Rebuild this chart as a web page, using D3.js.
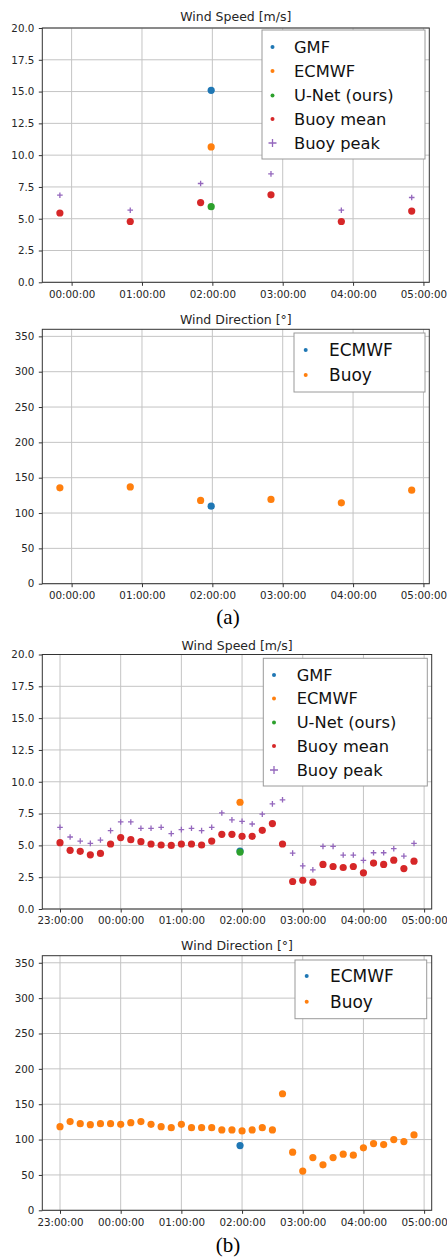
<!DOCTYPE html>
<html>
<head>
<meta charset="utf-8">
<script src="https://cdn.jsdelivr.net/npm/d3@7"></script>
<style>
    body { margin: 0; background: #fff; }
    svg { display: block; }
</style>
</head>
<body>
<svg id="chart" width="447" height="1258"></svg>
<script>
/* dati del caso (a) */
const timesA = ["23:50", "00:50", "01:50", "02:50", "03:50", "04:50"];
const satTimeA = ["01:59"];
const gmfSpeedA = [15.1];
const ecmwfSpeedA = [10.65];
const unetSpeedA = [5.95];
const buoyMeanA = [5.45, 4.78, 6.27, 6.88, 4.78, 5.6];
const buoyPeakA = [6.85, 5.67, 7.77, 8.53, 5.67, 6.67];
const ecmwfDirA = [109.7];
const buoyDirA = [135.7, 137, 117.8, 119.2, 114.5, 132.4];

/* dati del caso (b) */
const timesB = ["23:00", "23:10", "23:20", "23:30", "23:40", "23:50",
    "00:00", "00:10", "00:20", "00:30", "00:40", "00:50",
    "01:00", "01:10", "01:20", "01:30", "01:40", "01:50",
    "02:00", "02:10", "02:20", "02:30", "02:40", "02:50",
    "03:00", "03:10", "03:20", "03:30", "03:40", "03:50",
    "04:00", "04:10", "04:20", "04:30", "04:40", "04:50"];
const satTimeB = ["01:58"];
const gmfSpeedB = [4.55];
const ecmwfSpeedB = [8.39];
const unetSpeedB = [4.47];
const buoyMeanB = [5.21, 4.61, 4.53, 4.26, 4.37, 5.11, 5.61, 5.45, 5.29, 5.11, 5.03, 5.0,
    5.11, 5.11, 5.03, 5.34, 5.87, 5.87, 5.71, 5.71, 6.18, 6.71, 5.11, 2.16,
    2.26, 2.11, 3.5, 3.34, 3.26, 3.34, 2.84, 3.61, 3.5, 3.84, 3.18, 3.76];
const buoyPeakB = [6.42, 5.66, 5.34, 5.16, 5.42, 6.16, 6.84, 6.84, 6.34, 6.34, 6.42, 5.92,
    6.24, 6.34, 6.16, 6.42, 7.55, 7.0, 6.89, 6.68, 7.45, 8.26, 8.58, 4.39,
    3.39, 3.08, 4.92, 4.92, 4.24, 4.24, 3.82, 4.42, 4.42, 4.74, 4.16, 5.16];
const ecmwfDirB = [91.5];
const buoyDirB = [118.3, 125.4, 122.5, 121.1, 122.5, 122.5, 121.6, 123.9, 125.4, 121.6, 118.3, 116.9,
    121.6, 116.9, 116.9, 116.9, 113.6, 113.6, 112.2, 113.6, 116.9, 113.6, 164.8, 82.2,
    55.4, 74.6, 64.3, 74.6, 79.3, 77.9, 88.3, 94.4, 93.0, 100, 97.2, 106.6];

/* tick degli assi y */
const speedTicks = [0, 2.5, 5, 7.5, 10, 12.5, 15, 17.5, 20];
const dirTicks = [0, 50, 100, 150, 200, 250, 300, 350];

/* colori tab10 di matplotlib */
const colors = {
    blue: "#1f77b4", orange: "#ff7f0e", green: "#2ca02c", red: "#d62728", purple: "#9467bd"
};

const svg = d3.select("#chart");
const font = "DejaVu Sans, sans-serif";

/* converte "HH:MM" in data, le ore serali appartengono al giorno prima */
function parseTime(s) {
    const [h, m] = s.split(":").map(Number);
    return new Date(2021, 0, h >= 12 ? 1 : 2, h, m);
}

function drawPanel(p) {
    const g = svg.append("g");

    /* scala temporale con margine del 5% come matplotlib */
    const allTimes = p.series.flatMap(s => s.times.map(parseTime));
    const [t0, t1] = d3.extent(allTimes);
    const pad = (t1 - t0) * 0.05;
    const x = d3.scaleTime()
        .domain([new Date(+t0 - pad), new Date(+t1 + pad)])
        .range([p.left, p.right]);

    const y = d3.scaleLinear()
        .domain([0, p.yMax])
        .range([p.bottom, p.top]);

    const xTicks = x.ticks(d3.timeHour.every(1));

    /* griglia */
    g.append("g").selectAll("line")
        .data(xTicks)
        .join("line")
        .attr("x1", d => x(d)).attr("x2", d => x(d))
        .attr("y1", p.top).attr("y2", p.bottom)
        .attr("stroke", "#c4c4c4").attr("stroke-width", 1);
    g.append("g").selectAll("line")
        .data(p.yTicks)
        .join("line")
        .attr("x1", p.left).attr("x2", p.right)
        .attr("y1", d => y(d)).attr("y2", d => y(d))
        .attr("stroke", "#c4c4c4").attr("stroke-width", 1);

    /* assi */
    const xAxis = g.append("g")
        .attr("transform", `translate(0,${p.bottom})`)
        .call(d3.axisBottom(x)
            .tickValues(xTicks)
            .tickFormat(d3.timeFormat("%H:%M:%S"))
            .tickSize(3.5)
            .tickPadding(4.5));
    const yAxis = g.append("g")
        .attr("transform", `translate(${p.left},0)`)
        .call(d3.axisLeft(y)
            .tickValues(p.yTicks)
            .tickFormat(p.yFormat)
            .tickSize(3.5)
            .tickPadding(4.5));
    [xAxis, yAxis].forEach(a => {
        a.select(".domain").remove();
        a.selectAll("line").attr("stroke", "#333");
        a.selectAll("text")
            .attr("fill", "#262626")
            .style("font-family", font)
            .style("font-size", "10.3px");
    });

    /* serie */
    p.series.forEach(s => {
        const pts = s.times.map((t, i) => ({ t: parseTime(t), v: s.values[i] }));
        if (s.marker === "plus") {
            g.append("g").selectAll("path")
                .data(pts)
                .join("path")
                .attr("transform", d => `translate(${x(d.t)},${y(d.v)})`)
                .attr("d", "M-2.8,0H2.8M0,-2.8V2.8")
                .attr("stroke", s.color)
                .attr("stroke-width", 1.3);
        } else {
            g.append("g").selectAll("circle")
                .data(pts)
                .join("circle")
                .attr("cx", d => x(d.t))
                .attr("cy", d => y(d.v))
                .attr("r", 3.6)
                .attr("fill", s.color);
        }
    });

    /* cornice */
    g.append("rect")
        .attr("x", p.left).attr("y", p.top)
        .attr("width", p.right - p.left).attr("height", p.bottom - p.top)
        .attr("fill", "none").attr("stroke", "#333").attr("stroke-width", 1);

    /* titolo */
    g.append("text")
        .attr("x", (p.left + p.right) / 2)
        .attr("y", p.titleY)
        .attr("text-anchor", "middle")
        .attr("fill", "#262626")
        .style("font-family", font)
        .style("font-size", "12.5px")
        .text(p.title);

    /* legenda */
    const lg = p.legend;
    g.append("rect")
        .attr("x", lg.x0).attr("y", lg.y0)
        .attr("width", lg.x1 - lg.x0).attr("height", lg.y1 - lg.y0)
        .attr("fill", "#fff").attr("stroke", "#9a9a9a").attr("stroke-width", 1);
    p.series.forEach((s, i) => {
        const ry = lg.rows[i];
        if (s.marker === "plus") {
            g.append("path")
                .attr("transform", `translate(${lg.markerX},${ry})`)
                .attr("d", "M-4,0H4M0,-4V4")
                .attr("stroke", s.color).attr("stroke-width", 1.3);
        } else {
            g.append("circle")
                .attr("cx", lg.markerX).attr("cy", ry)
                .attr("r", 2).attr("fill", s.color);
        }
        g.append("text")
            .attr("x", lg.textX).attr("y", ry)
            .attr("dy", "0.36em")
            .attr("fill", "#111")
            .style("font-family", font)
            .style("font-size", lg.fontSize + "px")
            .text(s.name);
    });
}

const fmtSpeed = d3.format(".1f");
const fmtDir = d3.format("d");

/* (a) velocita */
drawPanel({
    left: 42.3, right: 429.3, top: 28, bottom: 282.3, yMax: 20,
    yTicks: speedTicks, yFormat: fmtSpeed, title: "Wind Speed [m/s]", titleY: 21,
    series: [
        { name: "GMF", times: satTimeA, values: gmfSpeedA, color: colors.blue },
        { name: "ECMWF", times: satTimeA, values: ecmwfSpeedA, color: colors.orange },
        { name: "U-Net (ours)", times: satTimeA, values: unetSpeedA, color: colors.green },
        { name: "Buoy mean", times: timesA, values: buoyMeanA, color: colors.red },
        { name: "Buoy peak", times: timesA, values: buoyPeakA, color: colors.purple, marker: "plus" }
    ],
    legend: { x0: 262, x1: 425, y0: 30, y1: 159, markerX: 272.5, textX: 294, fontSize: 16.3,
        rows: [47, 71, 95.5, 119, 143] }
});

/* (a) direzione */
drawPanel({
    left: 42.3, right: 429.3, top: 329.3, bottom: 583.7, yMax: 360,
    yTicks: dirTicks, yFormat: fmtDir, title: "Wind Direction [°]", titleY: 323.5,
    series: [
        { name: "ECMWF", times: satTimeA, values: ecmwfDirA, color: colors.blue },
        { name: "Buoy", times: timesA, values: buoyDirA, color: colors.orange }
    ],
    legend: { x0: 294, x1: 425, y0: 333, y1: 392, markerX: 305.7, textX: 329, fontSize: 17,
        rows: [350, 375] }
});

/* (b) velocita */
drawPanel({
    left: 42.3, right: 431.7, top: 654.5, bottom: 909, yMax: 20,
    yTicks: speedTicks, yFormat: fmtSpeed, title: "Wind Speed [m/s]", titleY: 649.5,
    series: [
        { name: "GMF", times: satTimeB, values: gmfSpeedB, color: colors.blue },
        { name: "ECMWF", times: satTimeB, values: ecmwfSpeedB, color: colors.orange },
        { name: "U-Net (ours)", times: satTimeB, values: unetSpeedB, color: colors.green },
        { name: "Buoy mean", times: timesB, values: buoyMeanB, color: colors.red },
        { name: "Buoy peak", times: timesB, values: buoyPeakB, color: colors.purple, marker: "plus" }
    ],
    legend: { x0: 263.3, x1: 427.3, y0: 658.3, y1: 786, markerX: 274, textX: 296.7, fontSize: 16.3,
        rows: [675, 698.5, 722.5, 746, 770] }
});

/* (b) direzione */
drawPanel({
    left: 42.3, right: 431.7, top: 955.7, bottom: 1210.3, yMax: 360,
    yTicks: dirTicks, yFormat: fmtDir, title: "Wind Direction [°]", titleY: 950,
    series: [
        { name: "ECMWF", times: satTimeB, values: ecmwfDirB, color: colors.blue },
        { name: "Buoy", times: timesB, values: buoyDirB, color: colors.orange }
    ],
    legend: { x0: 295, x1: 426.7, y0: 960, y1: 1018.7, markerX: 306.7, textX: 330, fontSize: 17,
        rows: [976, 1001.7] }
});

/* didascalie (a) e (b) */
svg.append("text")
    .attr("x", 228).attr("y", 624)
    .attr("text-anchor", "middle")
    .style("font-family", "Liberation Serif, serif")
    .style("font-size", "21px")
    .text("(a)");
svg.append("text")
    .attr("x", 228).attr("y", 1252)
    .attr("text-anchor", "middle")
    .style("font-family", "Liberation Serif, serif")
    .style("font-size", "21px")
    .text("(b)");
</script>
</body>
</html>
